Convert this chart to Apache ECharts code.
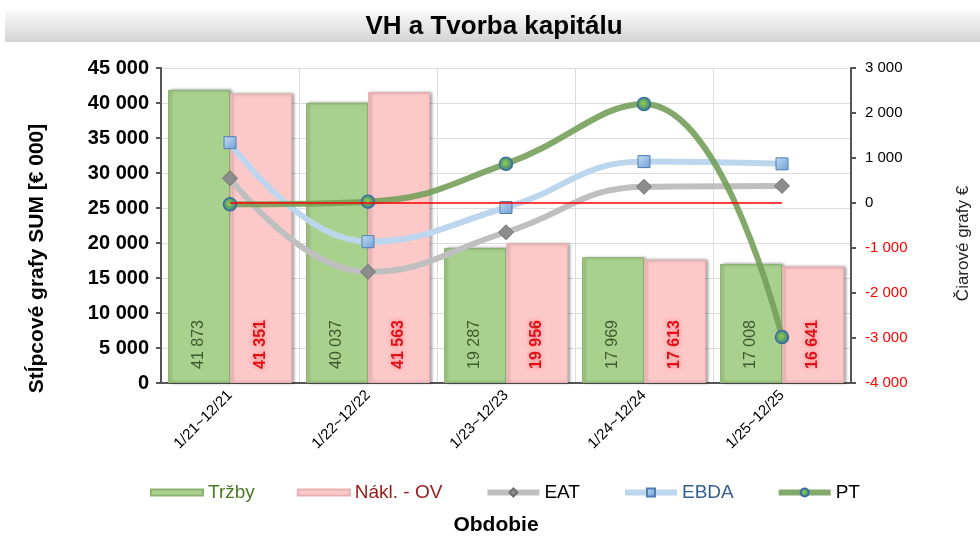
<!DOCTYPE html>
<html lang="sk" style="height: 100%">
<head>
    <meta charset="utf-8">
    <script src="https://cdn.jsdelivr.net/npm/echarts@6/dist/echarts.min.js"></script>
</head>
<body style="height: 100%; margin: 0; background: #fff">
    <div id="container" style="width: 980px; height: 543px"></div>
    <script type="text/javascript">

        // obdobia
        const categories = ["1/21~12/21", "1/22~12/22", "1/23~12/23", "1/24~12/24", "1/25~12/25"];

        // stĺpce [€ 000]
        const trzby = [41873, 40037, 19287, 17969, 17008];
        const naklOV = [41351, 41563, 19956, 17613, 16641];

        // čiary [€]
        const eat = [550, -1530, -650, 360, 380];
        const ebda = [1340, -860, -100, 920, 870];
        const pt = [-30, 30, 870, 2200, -2980];
        const nulovaCiara = [0, 0, 0, 0, 0];

        const fontFamily = '"Liberation Sans", Arial, sans-serif';

        const fmt = function (v) {
            let s = Math.abs(v).toString().replace(/\B(?=(\d{3})+(?!\d))/g, ' ');
            return (v < 0 ? '-' : '') + s;
        };

        let dom = document.getElementById('container');
        let myChart = echarts.init(dom, null, { renderer: 'canvas' });

        const barIcon = 'path://M0,0 L0,0 M0,2 L52,2 L52,8 L0,8 Z M52,10 L52,10';

        let option = {
            animation: false,
            textStyle: { fontFamily: fontFamily },
            graphic: [
                {
                    type: 'rect',
                    left: 5, top: 11,
                    shape: { width: 975, height: 31 },
                    style: {
                        fill: new echarts.graphic.LinearGradient(0, 0, 0, 1, [
                            { offset: 0, color: '#f9f9f9' },
                            { offset: 1, color: '#d3d3d3' }
                        ])
                    },
                    z: -1
                },
                {
                    type: 'text',
                    x: 494, y: 27,
                    style: {
                        text: 'VH a Tvorba kapitálu',
                        font: 'bold 26px ' + fontFamily,
                        fill: '#000',
                        align: 'center',
                        verticalAlign: 'middle'
                    }
                }
            ],
            grid: {
                left: 161,
                right: 129,
                top: 68,
                bottom: 160
            },
            legend: {
                left: 145,
                top: 478,
                itemWidth: 52,
                itemHeight: 10,
                itemGap: 42,
                textStyle: { fontSize: 19, fontFamily: fontFamily },
                data: [
                    { name: 'Tržby', icon: barIcon, textStyle: { color: '#4a7a26' } },
                    { name: 'Nákl. - OV', icon: barIcon, textStyle: { color: '#9a1a1a' } },
                    { name: 'EAT', lineStyle: { width: 6 }, textStyle: { color: '#000' } },
                    { name: 'EBDA', lineStyle: { width: 6 }, textStyle: { color: '#345f8f' } },
                    { name: 'PT', lineStyle: { width: 6 }, textStyle: { color: '#000' } }
                ]
            },
            xAxis: {
                type: 'category',
                data: categories,
                name: 'Obdobie',
                nameLocation: 'middle',
                nameGap: 132,
                nameTextStyle: {
                    fontSize: 21, fontWeight: 'bold', color: '#000',
                    padding: [0, 20, 0, 0]
                },
                axisLine: { lineStyle: { color: '#555', width: 2 } },
                axisTick: { length: 5, lineStyle: { color: '#555', width: 2 } },
                axisLabel: {
                    rotate: 45,
                    margin: 10,
                    fontSize: 15,
                    color: '#000'
                },
                splitLine: { show: true, lineStyle: { color: '#dcdcdc', width: 1 } }
            },
            yAxis: [
                {
                    type: 'value',
                    min: 0,
                    max: 45000,
                    interval: 5000,
                    name: 'Stĺpcové grafy SUM [€ 000]',
                    nameLocation: 'middle',
                    nameRotate: 90,
                    nameGap: 113,
                    nameTextStyle: {
                        fontSize: 21, fontWeight: 'bold', color: '#000',
                        padding: [0, 66, 0, 0]
                    },
                    axisLine: { show: true, lineStyle: { color: '#555', width: 2 } },
                    axisTick: { show: true, length: 5, lineStyle: { color: '#555', width: 2 } },
                    axisLabel: {
                        margin: 12,
                        fontSize: 20,
                        fontWeight: 'bold',
                        color: '#000',
                        formatter: fmt
                    },
                    splitLine: { show: true, lineStyle: { color: '#dcdcdc', width: 1 } }
                },
                {
                    type: 'value',
                    min: -4000,
                    max: 3000,
                    interval: 1000,
                    position: 'right',
                    name: 'Čiarové grafy €',
                    nameLocation: 'middle',
                    nameRotate: 90,
                    nameGap: 104,
                    nameTextStyle: {
                        fontSize: 17, color: '#222',
                        padding: [0, 36, 0, 0]
                    },
                    axisLine: { show: true, lineStyle: { color: '#555', width: 2 } },
                    axisTick: { show: true, length: 5, lineStyle: { color: '#555', width: 2 } },
                    axisLabel: {
                        margin: 14,
                        fontSize: 15,
                        color: function (v) { return Number(v) < 0 ? '#ff0000' : '#000'; },
                        formatter: fmt
                    },
                    splitLine: { show: false }
                }
            ],
            series: [
                {
                    name: 'Tržby',
                    type: 'bar',
                    barWidth: 62,
                    barGap: '0%',
                    data: trzby,
                    itemStyle: {
                        color: '#a9d18e',
                        borderColor: '#8cb372',
                        borderWidth: 1,
                        shadowColor: 'rgba(0,0,0,0.35)',
                        shadowBlur: 3,
                        shadowOffsetX: 2
                    },
                    label: {
                        show: true,
                        position: 'insideBottom',
                        distance: 14,
                        rotate: 90,
                        align: 'left',
                        verticalAlign: 'middle',
                        fontSize: 16,
                        color: '#3d5a2c',
                        formatter: p => fmt(p.value)
                    },
                    z: 1
                },
                {
                    name: 'Nákl. - OV',
                    type: 'bar',
                    barWidth: 62,
                    data: naklOV,
                    itemStyle: {
                        color: '#fdc8c8',
                        borderColor: '#e9b0b0',
                        borderWidth: 1,
                        shadowColor: 'rgba(0,0,0,0.35)',
                        shadowBlur: 3,
                        shadowOffsetX: 2
                    },
                    label: {
                        show: true,
                        position: 'insideBottom',
                        distance: 14,
                        rotate: 90,
                        align: 'left',
                        verticalAlign: 'middle',
                        fontSize: 16,
                        fontWeight: 'bold',
                        color: '#e0101a',
                        textShadowColor: 'rgba(255,60,60,0.55)',
                        textShadowBlur: 5,
                        formatter: p => fmt(p.value)
                    },
                    z: 1
                },
                {
                    name: 'EAT',
                    type: 'line',
                    yAxisIndex: 1,
                    data: eat,
                    smooth: 0.45,
                    symbol: 'diamond',
                    symbolSize: 15,
                    lineStyle: { color: '#bfbfbf', width: 6 },
                    itemStyle: { color: '#8c8c8c', borderColor: '#6f6f6f', borderWidth: 1 },
                    z: 3
                },
                {
                    name: 'EBDA',
                    type: 'line',
                    yAxisIndex: 1,
                    data: ebda,
                    smooth: 0.45,
                    symbol: 'rect',
                    symbolSize: 12,
                    lineStyle: { color: '#bcd6ee', width: 6 },
                    itemStyle: {
                        color: new echarts.graphic.LinearGradient(0, 0, 1, 1, [
                            { offset: 0, color: '#c5dcf3' },
                            { offset: 1, color: '#6f9fd2' }
                        ]),
                        borderColor: '#4f7fb4',
                        borderWidth: 1
                    },
                    z: 4
                },
                {
                    name: 'PT',
                    type: 'line',
                    yAxisIndex: 1,
                    data: pt,
                    smooth: 0.45,
                    symbol: 'circle',
                    symbolSize: 13,
                    lineStyle: { color: '#76a05a', width: 6, opacity: 0.9 },
                    itemStyle: {
                        color: new echarts.graphic.RadialGradient(0.45, 0.45, 0.6, [
                            { offset: 0, color: '#8fd04c' },
                            { offset: 1, color: '#2f6f8f' }
                        ]),
                        borderColor: '#3a6e9e',
                        borderWidth: 1.5
                    },
                    z: 5
                },
                {
                    name: 'nula',
                    type: 'line',
                    yAxisIndex: 1,
                    data: nulovaCiara,
                    symbol: 'none',
                    lineStyle: { color: '#ff0000', width: 1.5 },
                    z: 6
                }
            ]
        };

        myChart.setOption(option);
        window.addEventListener('resize', myChart.resize);
    </script>
</body>
</html>
